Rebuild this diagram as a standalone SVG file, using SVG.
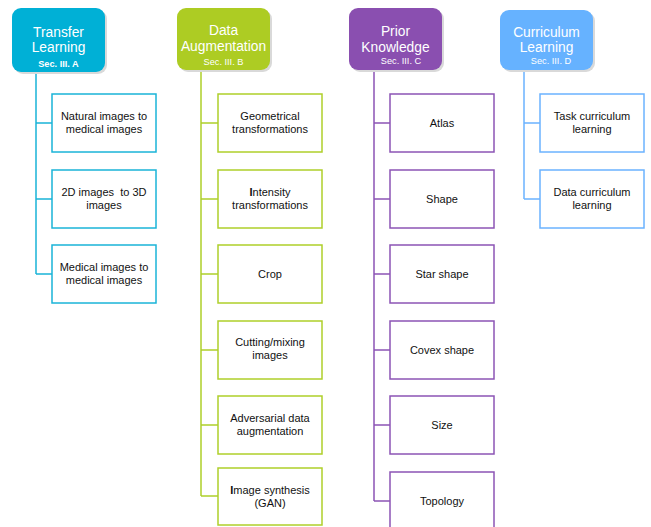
<svg xmlns="http://www.w3.org/2000/svg" width="651" height="527" viewBox="0 0 651 527">
<style>
.hd{stroke:none}
.sh{fill:#d9d9d9}
.ht{font-family:"Liberation Sans",Arial,sans-serif;font-size:13.8px;fill:#fff;text-anchor:middle}
.hs{font-family:"Liberation Sans",Arial,sans-serif;font-size:9.2px;fill:#fff;text-anchor:middle}
.bx{fill:#fff;stroke-width:1.5}
.t{font-family:"Liberation Sans",Arial,sans-serif;font-size:11px;fill:#111;text-anchor:middle}
.c{fill:none;stroke-width:1.5}
.cy{stroke:#1ab4d8}.gr{stroke:#afcf2a}.pu{stroke:#8c54b5}.bl{stroke:#6bb3ff}
</style>
<rect width="651" height="527" fill="#fff"/>
<g id="connectors">
<path class="c cy" d="M36 72V274M36 123H52M36 199H52M36 274H52"/>
<path class="c gr" d="M201 70V496M201 123H218M201 199H218M201 274H218M201 350H218M201 425H218M201 496H218"/>
<path class="c pu" d="M374 70V501M374 123H390M374 199H390M374 274H390M374 350H390M374 425H390M374 501H390"/>
<path class="c bl" d="M524 70V199M524 123H540M524 199H540"/>
</g>
<g id="h1">
<rect class="sh" x="14" y="10" width="93" height="64" rx="9"/>
<rect x="12" y="8" width="93" height="64" rx="9" fill="#00b0d6"/>
<text class="ht" x="58.5" y="37">Transfer</text>
<text class="ht" x="58.5" y="52">Learning</text>
<text class="hs" x="58.5" y="67" font-weight="bold">Sec. III. A</text>
</g>
<g id="h2">
<rect class="sh" x="179" y="10" width="93" height="62" rx="9"/>
<rect x="177" y="8" width="93" height="62" rx="9" fill="#adcc23"/>
<text class="ht" x="223.5" y="35">Data</text>
<text class="ht" x="223.5" y="51">Augmentation</text>
<text class="hs" x="223.5" y="65">Sec. III. B</text>
</g>
<g id="h3">
<rect class="sh" x="351" y="10" width="93" height="62" rx="9"/>
<rect x="349" y="8" width="93" height="62" rx="9" fill="#8a4fb0"/>
<text class="ht" x="395.5" y="36">Prior</text>
<text class="ht" x="395.5" y="52">Knowledge</text>
<text class="hs" x="401" y="64">Sec. III. C</text>
</g>
<g id="h4">
<rect class="sh" x="502" y="12" width="93" height="60" rx="9"/>
<rect x="500" y="10" width="93" height="60" rx="9" fill="#66b2ff"/>
<text class="ht" x="546.5" y="37">Curriculum</text>
<text class="ht" x="546.5" y="52">Learning</text>
<text class="hs" x="551" y="64">Sec. III. D</text>
</g>
<g id="n1a"><rect class="bx cy" x="52" y="94" width="104" height="58"/><text class="t" x="104" y="120">Natural images to</text><text class="t" x="104" y="133">medical images</text></g>
<g id="n1b"><rect class="bx cy" x="52" y="170" width="104" height="58"/><text class="t" x="104" y="196" xml:space="preserve">2D images  to 3D</text><text class="t" x="104" y="209">images</text></g>
<g id="n1c"><rect class="bx cy" x="52" y="245" width="104" height="58"/><text class="t" x="104" y="271">Medical images to</text><text class="t" x="104" y="284">medical images</text></g>

<g id="n2a"><rect class="bx gr" x="218" y="94" width="104" height="58"/><text class="t" x="270" y="120">Geometrical</text><text class="t" x="270" y="133">transformations</text></g>
<g id="n2b"><rect class="bx gr" x="218" y="170" width="104" height="58"/><text class="t" x="270" y="196"><tspan font-weight="bold">I</tspan>ntensity</text><text class="t" x="270" y="209">transformations</text></g>
<g id="n2c"><rect class="bx gr" x="218" y="245" width="104" height="58"/><text class="t" x="270" y="278">Crop</text></g>
<g id="n2d"><rect class="bx gr" x="218" y="321" width="104" height="58"/><text class="t" x="270" y="346">Cutting/mixing</text><text class="t" x="270" y="359">images</text></g>
<g id="n2e"><rect class="bx gr" x="218" y="396" width="104" height="58"/><text class="t" x="270" y="422">Adversarial data</text><text class="t" x="270" y="435">augmentation</text></g>
<g id="n2f"><rect class="bx gr" x="218" y="468" width="104" height="57"/><text class="t" x="270" y="494"><tspan font-weight="bold">I</tspan>mage synthesis</text><text class="t" x="270" y="507">(GAN)</text></g>

<g id="n3a"><rect class="bx pu" x="390" y="94" width="104" height="58"/><text class="t" x="442" y="127">Atlas</text></g>
<g id="n3b"><rect class="bx pu" x="390" y="170" width="104" height="58"/><text class="t" x="442" y="203">Shape</text></g>
<g id="n3c"><rect class="bx pu" x="390" y="245" width="104" height="58"/><text class="t" x="442" y="278">Star shape</text></g>
<g id="n3d"><rect class="bx pu" x="390" y="321" width="104" height="58"/><text class="t" x="442" y="354">Covex shape</text></g>
<g id="n3e"><rect class="bx pu" x="390" y="396" width="104" height="58"/><text class="t" x="442" y="429">Size</text></g>
<g id="n3f"><rect class="bx pu" x="390" y="472" width="104" height="60"/><text class="t" x="442" y="505">Topology</text></g>

<g id="n4a"><rect class="bx bl" x="540" y="94" width="104" height="58"/><text class="t" x="592" y="120">Task curriculum</text><text class="t" x="592" y="133">learning</text></g>
<g id="n4b"><rect class="bx bl" x="540" y="170" width="104" height="58"/><text class="t" x="592" y="196">Data curriculum</text><text class="t" x="592" y="209">learning</text></g>
</svg>
